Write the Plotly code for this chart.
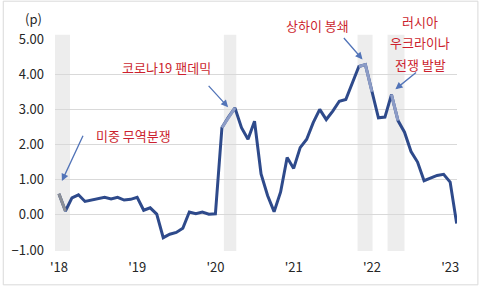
import plotly.graph_objects as go

# ---- data ----
month_idx = list(range(62))  # Jan 2018 .. Feb 2023 (monthly)
values = [0.60, 0.11, 0.48, 0.57, 0.38, 0.42, 0.45, 0.50, 0.45, 0.50, 0.42, 0.44,
          0.50, 0.13, 0.20, 0.02, -0.65, -0.55, -0.50, -0.38, 0.08, 0.03, 0.08, 0.02,
          0.03, 2.48, 2.78, 3.04, 2.48, 2.15, 2.66, 1.16, 0.55, 0.09, 0.65, 1.63,
          1.32, 1.91, 2.15, 2.62, 3.00, 2.71, 2.95, 3.23, 3.28, 3.75, 4.22, 4.27,
          3.50, 2.76, 2.78, 3.42, 2.68, 2.35, 1.80, 1.50, 0.97, 1.05, 1.12, 1.15,
          0.93, -0.25]
tick_vals = [0, 12, 24, 36, 48, 60]
tick_text = ["'18", "'19", "'20", "'21", "'22", "'23"]
y_ticks = [-1, 0, 1, 2, 3, 4, 5]
# shaded event periods (month index units)
bands = [(-0.6, 1.7), (25.3, 27.2), (45.8, 48.1), (50.4, 53.0)]
# highlighted segments (start, end index inclusive) and colour
light_segs = [(0, 1, "#8C8F96"), (25, 27, "#8C9CC6"), (46, 48, "#8C9CC6"), (51, 52, "#8C9CC6")]

RED = "#CC1F2F"
ARROW = "#5274B8"
FONT = "Noto Sans CJK KR"

L, R, T, B = 53, 23, 39, 37
PW, PH = 480 - L - R, 288 - T - B


def px(x, y):
    return (x - L) / PW, (T + PH - y) / PH


fig = go.Figure()
fig.add_trace(go.Scatter(x=month_idx, y=values, mode="lines",
                         line=dict(color="#2E4A8B", width=3), hoverinfo="skip",
                         showlegend=False))
for s, e, c in light_segs:
    fig.add_trace(go.Scatter(x=month_idx[s:e + 1], y=values[s:e + 1], mode="lines",
                             line=dict(color=c, width=3), showlegend=False))

for x0, x1 in bands:
    fig.add_shape(type="rect", xref="x", yref="paper", x0=x0, x1=x1, y0=-0.005, y1=1.02,
                  fillcolor="#EDEDED", line_width=0, layer="below")

# chart border
bx0, by0 = px(1, 286)
bx1, by1 = px(478, 1)
fig.add_shape(type="rect", xref="paper", yref="paper", x0=bx0, x1=bx1, y0=by0, y1=by1,
              line=dict(color="#D9D9D9", width=1), fillcolor="rgba(0,0,0,0)")

arrows = [
    (0.46, 0.96, 3.8, 2.29),
    (25.95, 3.06, 22.75, 3.71),
    (46.56, 4.42, 43.5, 5.07),
    (51.6, 3.57, 55.0, 4.08),
]
for hx, hy, tx, ty in arrows:
    fig.add_annotation(x=hx, y=hy, ax=tx, ay=ty, xref="x", yref="y", axref="x", ayref="y",
                       text="", showarrow=True, arrowhead=2, arrowsize=1.1, arrowwidth=1.3,
                       arrowcolor=ARROW)

labels = [
    ("미중 무역분쟁", 132, 136),
    ("코로나19 팬데믹", 165.5, 68),
    ("상하이 봉쇄", 316.5, 25),
    ("러시아", 420, 21.5),
    ("우크라이나", 420, 43),
    ("전쟁 발발", 420, 65),
]
for t, x, y in labels:
    xp, yp = px(x, y)
    fig.add_annotation(x=xp, y=yp, xref="paper", yref="paper", text=t, showarrow=False,
                       font=dict(family=FONT, size=13, color=RED),
                       xanchor="center", yanchor="middle")

xp, yp = px(31, 18)
fig.add_annotation(x=xp, y=yp, xref="paper", yref="paper",
                   text="(p)", showarrow=False, xanchor="center", yanchor="middle",
                   font=dict(family=FONT, size=13, color="#262626"))

fig.update_layout(
    width=480, height=288,
    margin=dict(l=L, r=R, t=T, b=B),
    paper_bgcolor="white", plot_bgcolor="white",
    font=dict(family=FONT, size=13, color="#262626"),
    xaxis=dict(range=[-0.6, 61.05], tickvals=tick_vals, ticktext=tick_text,
               showgrid=False, zeroline=False, showline=False, ticks="",
               ticklabelstandoff=8, fixedrange=True),
    yaxis=dict(range=[-1, 5], tickvals=y_ticks, tickformat=".2f",
               showgrid=True, gridcolor="#D9D9D9", gridwidth=1,
               zeroline=False, showline=False, ticks="", ticklabelstandoff=10,
               fixedrange=True),
)

fig.write_html("out.html")
